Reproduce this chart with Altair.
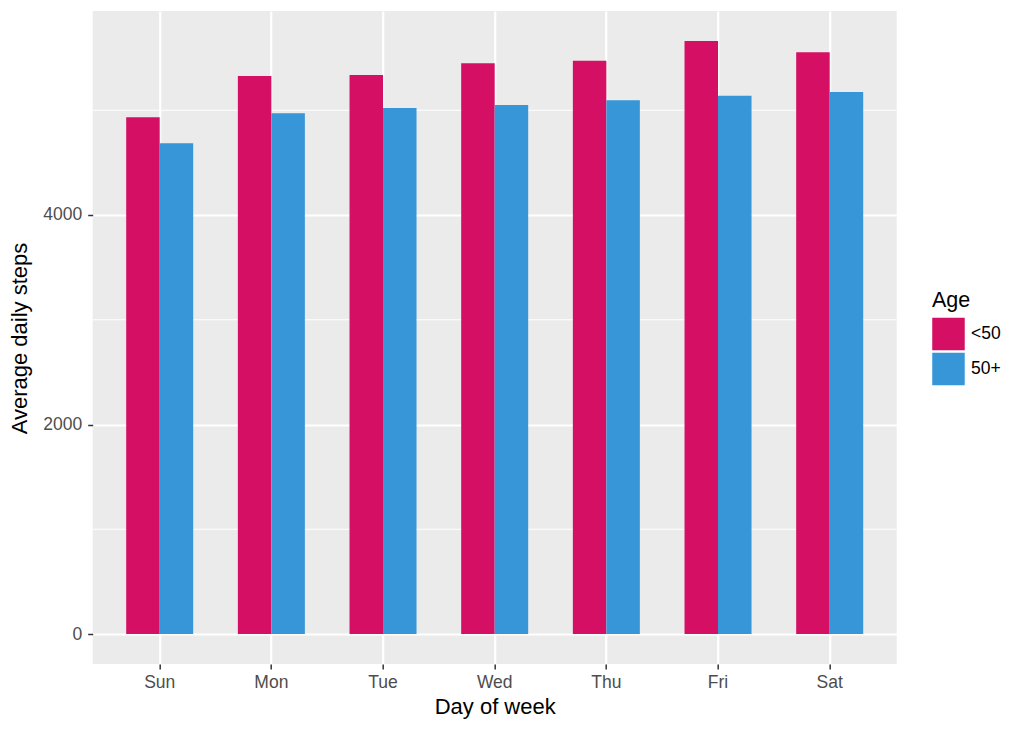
import altair as alt
import pandas as pd

days = ["Sun", "Mon", "Tue", "Wed", "Thu", "Fri", "Sat"]
under50 = [4933, 5327, 5337, 5448, 5473, 5661, 5553]
over50 = [4684, 4971, 5021, 5050, 5095, 5139, 5174]
ages = ["<50", "50+"]
colors = ["#D40F64", "#3796D8"]
major_ticks = [0, 2000, 4000]
minor_ticks = [1000, 3000, 5000]

rows = []
for d, a, b in zip(days, under50, over50):
    rows.append({"day": d, "age": "<50", "steps": a})
    rows.append({"day": d, "age": "50+", "steps": b})
df = pd.DataFrame(rows)

FONT = "Liberation Sans"
y_scale = alt.Scale(domain=[-286, 5947], nice=False, zero=False)

y_axis = alt.Axis(
    title="Average daily steps",
    values=major_ticks,
    format="d",
    grid=True,
    gridColor="white",
    gridWidth=2.2,
    domain=False,
    tickColor="#333333",
    tickSize=5,
    tickWidth=1.5,
    labelFontSize=17.5,
    labelColor="#4D4D4D",
    labelPadding=6,
    titleFontSize=22,
    titleFontWeight="normal",
    titleColor="black",
    titleAngle=270,
    titleX=-66,
    titleY=327,
    titleAlign="center",
    titleBaseline="alphabetic",
)

minor = alt.Chart(pd.DataFrame({"steps": minor_ticks})).mark_rule(
    color="white", strokeWidth=1.1
).encode(y=alt.Y("steps:Q", scale=y_scale, axis=y_axis, title="Average daily steps"))

bars = alt.Chart(df).mark_bar().encode(
    x=alt.X(
        "day:N",
        sort=days,
        scale=alt.Scale(paddingInner=0.4, paddingOuter=0.3),
        axis=alt.Axis(
            title="Day of week",
            bandPosition=0.5,
            grid=True,
            gridColor="white",
            gridWidth=2.2,
            domain=False,
            labelAngle=0,
            tickColor="#333333",
            tickSize=5,
            tickWidth=1.5,
            labelFontSize=17.5,
            labelColor="#4D4D4D",
            labelBaseline="alphabetic",
            labelPadding=18.3,
            titleFontSize=22,
            titleFontWeight="normal",
            titleColor="black",
            titleX=402,
            titleY=50,
            titleAlign="center",
            titleBaseline="alphabetic",
        ),
    ),
    xOffset=alt.XOffset(
        "age:N", sort=ages, scale=alt.Scale(domain=ages, paddingInner=0, paddingOuter=0)
    ),
    y=alt.Y("steps:Q", scale=y_scale, axis=y_axis, title="Average daily steps"),
    color=alt.Color(
        "age:N",
        sort=ages,
        scale=alt.Scale(domain=ages, range=colors),
        legend=alt.Legend(
            title="Age",
            orient="none",
            legendX=839.3,
            legendY=279,
            padding=0,
            titleFontSize=21.5,
            titleFontWeight="normal",
            titleColor="black",
            titleBaseline="top",
            titleAnchor="start",
            titlePadding=6,
            labelFontSize=17.5,
            labelColor="black",
            labelOffset=6,
            symbolType="square",
            symbolSize=1056,
            symbolStrokeWidth=0,
            symbolOpacity=1,
            rowPadding=2,
        ),
    ),
)

chart = (
    alt.layer(minor, bars)
    .properties(
        width=804,
        height=653,
        autosize=alt.AutoSizeParams(type="none"),
        padding={"left": 84.7, "top": 3, "right": 115, "bottom": 55},
    )
    .configure_view(fill="#EBEBEB", strokeWidth=0)
    .configure_axis(labelFont=FONT, titleFont=FONT)
    .configure_legend(labelFont=FONT, titleFont=FONT)
)

chart.save("out.html", embed_options={"renderer": "svg", "actions": False})
